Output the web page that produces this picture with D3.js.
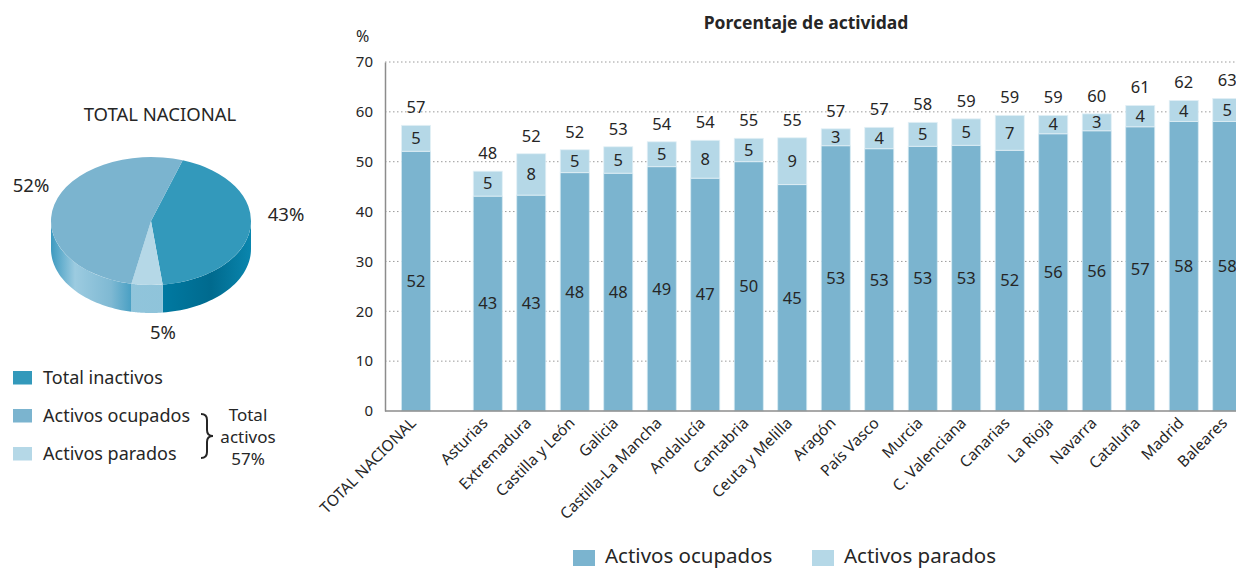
<!DOCTYPE html>
<html>
<head>
<meta charset="utf-8">
<script src="https://cdn.jsdelivr.net/npm/d3@7"></script>
<style>
    body { margin: 0; background: #fff; }
    svg { display: block; font-family: "Noto Sans", sans-serif; }
    text { fill: #262626; }
</style>
</head>
<body>
<div id="chart"></div>
<script>

// ---- data ----
const regions = ["Asturias", "Extremadura", "Castilla y León", "Galicia", "Castilla-La Mancha",
    "Andalucía", "Cantabria", "Ceuta y Melilla", "Aragón", "País Vasco", "Murcia",
    "C. Valenciana", "Canarias", "La Rioja", "Navarra", "Cataluña", "Madrid", "Baleares"];
const ocupados = [43.1, 43.3, 47.8, 47.7, 49.0, 46.7, 50.0, 45.4, 53.2, 52.6, 53.1,
    53.3, 52.3, 55.6, 56.2, 57.0, 58.1, 58.1];
const parados = [5.0, 8.3, 4.6, 5.3, 5.0, 7.6, 4.7, 9.4, 3.4, 4.3, 4.8,
    5.3, 7.0, 3.7, 3.4, 4.3, 4.2, 4.6];
const totalLabel = "TOTAL NACIONAL";
const totalOcupados = 52.1;
const totalParados = 5.2;

const pieLabels = ["Total inactivos", "Activos parados", "Activos ocupados"];
const pieValues = [43, 5, 52];
const yTicks = [0, 10, 20, 30, 40, 50, 60, 70];

const colOcup = "#7bb4cf", colPar = "#b5d8e7", colInact = "#3399bb";

// ---- svg ----
const W = 1236, H = 569;
const svg = d3.select("#chart").append("svg")
    .attr("width", W)
    .attr("height", H);

const defs = svg.append("defs");

// ---- bar chart ----
let y = d3.scaleLinear().domain([0, 70]).range([411, 62]);
let x = d3.scaleBand()
    .domain(regions)
    .range([466, 1249])
    .paddingInner(0.333)
    .paddingOuter(0.1667);

let plotLeft = 385, plotRight = W;

let rows = [{name: totalLabel, ocup: totalOcupados, par: totalParados,
             x: x(regions[0]) - 1.65 * x.step()}]
    .concat(regions.map((r, i) => ({name: r, ocup: ocupados[i], par: parados[i], x: x(r)})));

svg.append("text")
    .attr("x", 806).attr("y", 29)
    .style("text-anchor", "middle")
    .style("font-weight", "bold")
    .style("font-size", "17.5px")
    .text("Porcentaje de actividad");

svg.append("text")
    .attr("x", 356).attr("y", 42)
    .style("font-size", "16px")
    .text("%");

// grid
svg.append("g").selectAll("line")
    .data(yTicks.filter(d => d > 0))
    .enter()
    .append("line")
    .attr("x1", plotLeft).attr("x2", plotRight)
    .attr("y1", d => y(d)).attr("y2", d => y(d))
    .style("stroke", "#9a9a9a")
    .style("stroke-width", 1)
    .style("stroke-dasharray", "1.5,2.5");

let yAxis = d3.axisLeft(y).tickValues(yTicks).tickSize(0).tickPadding(12).tickSizeOuter(0);
let yAxisGroup = svg.append("g")
    .attr("transform", `translate(${plotLeft},0)`)
    .call(yAxis);
yAxisGroup.select(".domain").style("stroke", "#8c8c8c").style("stroke-width", 1.5);
yAxisGroup.selectAll("text")
    .style("font-size", "15px")
    .style("font-family", "'Noto Sans', sans-serif")
    .style("fill", "#262626");

let bw = x.bandwidth();
let bars = svg.append("g").selectAll(".bar")
    .data(rows)
    .enter()
    .append("g")
    .attr("class", "bar");

bars.append("rect")
    .attr("x", d => d.x)
    .attr("y", d => y(d.ocup))
    .attr("width", bw)
    .attr("height", d => y(0) - y(d.ocup))
    .style("fill", colOcup)
    .style("stroke", "#d3e8f1")
    .style("stroke-width", 0.8);

bars.append("rect")
    .attr("x", d => d.x)
    .attr("y", d => y(d.ocup + d.par))
    .attr("width", bw)
    .attr("height", d => y(d.ocup) - y(d.ocup + d.par))
    .style("fill", colPar)
    .style("stroke", "#e3f0f6")
    .style("stroke-width", 0.8);

bars.append("text")
    .attr("x", d => d.x + bw / 2)
    .attr("y", d => (y(0) + y(d.ocup)) / 2)
    .attr("dy", "0.35em")
    .style("text-anchor", "middle")
    .style("font-size", "16.5px")
    .text(d => Math.round(d.ocup));

bars.append("text")
    .attr("x", d => d.x + bw / 2)
    .attr("y", d => (y(d.ocup) + y(d.ocup + d.par)) / 2)
    .attr("dy", "0.35em")
    .style("text-anchor", "middle")
    .style("font-size", "16.5px")
    .text(d => Math.round(d.par));

bars.append("text")
    .attr("x", d => d.x + bw / 2)
    .attr("y", d => y(d.ocup + d.par) - 12)
    .style("text-anchor", "middle")
    .style("font-size", "16.5px")
    .text(d => Math.round(d.ocup + d.par));

bars.append("text")
    .attr("transform", d => `translate(${d.x + bw / 2 + 1},${y(0) + 13}) rotate(-45)`)
    .style("text-anchor", "end")
    .style("font-size", "15.5px")
    .text(d => d.name);

// baseline
svg.append("line")
    .attr("x1", plotLeft).attr("x2", plotRight)
    .attr("y1", y(0)).attr("y2", y(0))
    .style("stroke", "#8c8c8c")
    .style("stroke-width", 1.5);

// bottom legend
let bottomLegend = [["Activos ocupados", colOcup, 573], ["Activos parados", colPar, 812]];
bottomLegend.forEach(function (d) {
    svg.append("rect")
        .attr("x", d[2]).attr("y", 550)
        .attr("width", 22).attr("height", 16)
        .style("fill", d[1]);
    svg.append("text")
        .attr("x", d[2] + 32).attr("y", 563)
        .style("font-size", "20.5px")
        .text(d[0]);
});

// ---- 3D pie ----
let cx = 151, cy = 221, rx = 100, ry = 64, depth = 28;
let start = 18.5 * Math.PI / 180;

let pie = d3.pie().sort(null).startAngle(start).endAngle(start + 2 * Math.PI);
let slices = pie(pieValues);
let topColors = [colInact, colPar, colOcup];

// side gradients (cylinder shading)
let sideStops = [
    [[0, "#0a8ab2"], [0.55, "#007aa2"], [0.8, "#006a8e"], [1, "#0a86ae"]],
    [[0, "#93c6dc"], [1, "#8cc2d9"]],
    [[0, "#3d9ac0"], [0.12, "#9ccbe0"], [0.3, "#7fb9d3"], [0.4, "#4aa0c4"], [1, "#4aa0c4"]]
];
sideStops.forEach(function (stops, i) {
    let g = defs.append("linearGradient")
        .attr("id", "side" + i)
        .attr("gradientUnits", "userSpaceOnUse")
        .attr("x1", cx - rx).attr("x2", cx + rx)
        .attr("y1", 0).attr("y2", 0);
    stops.forEach(s => g.append("stop").attr("offset", s[0]).attr("stop-color", s[1]));
});

let pieG = svg.append("g");

function ellPt(a, dy) {
    return [cx + Math.sin(a) * rx, cy - Math.cos(a) * ry + dy];
}

slices.forEach(function (s, i) {
    // visible front part of the wall: angles between 90° and 270° (mod 360)
    [0, 2 * Math.PI].forEach(function (off) {
        let a0 = Math.max(s.startAngle, Math.PI / 2 + off);
        let a1 = Math.min(s.endAngle, 3 * Math.PI / 2 + off);
        if (a1 <= a0) return;
        let n = 40, pts = [];
        for (let k = 0; k <= n; k++) pts.push(ellPt(a0 + (a1 - a0) * k / n, 0));
        for (let k = n; k >= 0; k--) pts.push(ellPt(a0 + (a1 - a0) * k / n, depth));
        pieG.append("path")
            .attr("d", d3.line()(pts) + "Z")
            .style("fill", "url(#side" + i + ")");
    });
});

let arc = d3.arc().innerRadius(0).outerRadius(rx);
pieG.append("g")
    .attr("transform", `translate(${cx},${cy}) scale(1,${ry / rx})`)
    .selectAll("path")
    .data(slices)
    .enter()
    .append("path")
    .attr("d", arc)
    .style("fill", (d, i) => topColors[i]);

svg.append("text")
    .attr("x", 160).attr("y", 121)
    .style("text-anchor", "middle")
    .style("font-size", "18.5px")
    .text("TOTAL NACIONAL");

let pieLabelPos = [[286, 221], [163, 339], [31, 192]];
slices.forEach(function (s, i) {
    svg.append("text")
        .attr("x", pieLabelPos[i][0]).attr("y", pieLabelPos[i][1])
        .style("text-anchor", "middle")
        .style("font-size", "18.5px")
        .text(s.data + "%");
});

// left legend
let legendRows = [["Total inactivos", colInact], ["Activos ocupados", colOcup], ["Activos parados", colPar]];
legendRows.forEach(function (d, i) {
    svg.append("rect")
        .attr("x", 13).attr("y", 371 + i * 38)
        .attr("width", 19).attr("height", 13.5)
        .style("fill", d[1]);
    svg.append("text")
        .attr("x", 43).attr("y", 384 + i * 38)
        .style("font-size", "18px")
        .text(d[0]);
});

// brace
svg.append("path")
    .attr("d", "M201,414 Q207,414 207,420 L207,430 Q207,436 213,436 Q207,436 207,442 L207,452 Q207,458 201,458")
    .style("fill", "none")
    .style("stroke", "#262626")
    .style("stroke-width", 2);

["Total", "activos", (pieValues[1] + pieValues[2]) + "%"].forEach(function (t, i) {
    svg.append("text")
        .attr("x", 248).attr("y", 421 + i * 22)
        .style("text-anchor", "middle")
        .style("font-size", "17px")
        .text(t);
});

</script>
</body>
</html>
